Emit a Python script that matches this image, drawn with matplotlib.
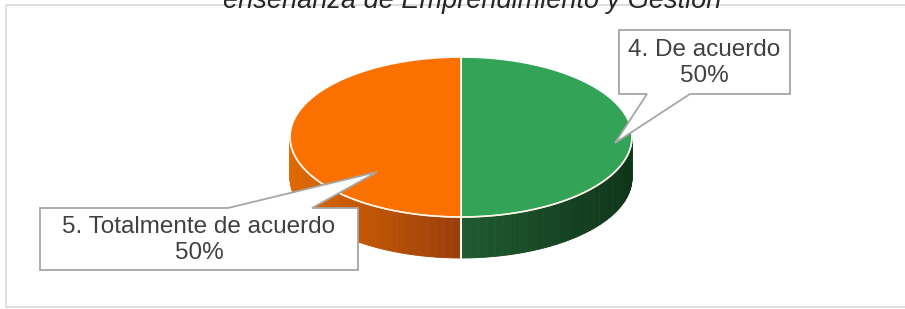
import numpy as np
import matplotlib
matplotlib.use("Agg")
import matplotlib.pyplot as plt
from matplotlib.patches import Polygon, Rectangle
from matplotlib.colors import to_rgb

title = "enseñanza de Emprendimiento y Gestión"
labels = ["4. De acuerdo", "5. Totalmente de acuerdo"]
values = [50, 50]
top_colors = ["#33a457", "#fb7100"]
side_light = ["#1f5a31", "#e06a00"]
side_dark = ["#0f3519", "#993e0c"]

W, H = 905, 309
fig = plt.figure(figsize=(W / 100, H / 100), dpi=100)
ax = fig.add_axes([0, 0, 1, 1])
ax.set_xlim(0, W)
ax.set_ylim(H, 0)
ax.axis("off")

# chart frame
ax.add_patch(Rectangle((6, 5), 960, 302, fill=False, ec="#d9d9d9", lw=1.2))
ax.text(472, 8, title, ha="center", va="baseline", fontsize=19.5, style="italic",
        color="#262626", family="Liberation Sans")

cx, cy, rx, ry, depth = 461, 137, 171, 80, 41


def pt(t, dy=0):
    r = np.radians(t)
    return cx + rx * np.cos(r), cy - ry * np.sin(r) + dy


total = sum(values)
angles = [90]
for v in values:
    angles.append(angles[-1] - v / total * 360)

# side walls (front half only)
for i in range(len(values)):
    a0, a1 = angles[i], angles[i + 1]
    lo, hi = min(a0, a1), max(a0, a1)
    ts = np.linspace(lo, hi, 200)
    ts = ts[np.sin(np.radians(ts)) <= 1e-9]
    if len(ts) < 2:
        continue
    c0, c1 = np.array(to_rgb(side_light[i])), np.array(to_rgb(side_dark[i]))
    for k in range(len(ts) - 1):
        # shade: lighter on the outer side, darker near the front middle
        f = abs(np.cos(np.radians((ts[k] + ts[k + 1]) / 2)))
        if i == 0:
            col = c1 + (c0 - c1) * (1 - f)
        else:
            col = c1 + (c0 - c1) * f
        p1, p2 = pt(ts[k]), pt(ts[k + 1])
        q1, q2 = pt(ts[k], depth), pt(ts[k + 1], depth)
        ax.add_patch(Polygon([p1, p2, q2, q1], closed=True, fc=col, ec=col, lw=0.6))

# white seam on side at the front
ax.plot([pt(-90)[0]] * 2, [pt(-90)[1], pt(-90, depth)[1]], color="white", lw=1.4)

# top faces
for i in range(len(values)):
    ts = np.linspace(angles[i], angles[i + 1], 200)
    poly = [(cx, cy)] + [pt(t) for t in ts]
    ax.add_patch(Polygon(poly, closed=True, fc=top_colors[i], ec="white", lw=1.2))

# front rim highlight
ts = np.linspace(180, 360, 200)
rim = np.array([pt(t) for t in ts])
ax.plot(rim[:, 0], rim[:, 1], color="#fff2e0", lw=1.0, alpha=0.8)


def callout(box, base, tip, text):
    x0, y0, x1, y1 = box
    b0, b1 = base
    if tip[1] > y1:
        pts = [(x0, y0), (x1, y0), (x1, y1), (b1, y1), tip, (b0, y1), (x0, y1)]
    else:
        pts = [(x0, y0), (b0, y0), tip, (b1, y0), (x1, y0), (x1, y1), (x0, y1)]
    ax.add_patch(Polygon(pts, closed=True, fc="white", ec="#a6a6a6", lw=1.3, zorder=5))
    ax.text((x0 + x1) / 2, (y0 + y1) / 2 + 1, text, ha="center", va="center",
            fontsize=17.5, color="#404040", family="Liberation Sans",
            linespacing=1.22, zorder=6)


pcts = [round(v / total * 100) for v in values]
callout((619, 30, 790, 94), (647, 690), (615, 143), f"{labels[0]}\n{pcts[0]}%")
callout((40, 208, 358, 270), (228, 312), (377, 172), f"{labels[1]}\n{pcts[1]}%")

fig.savefig("out.png", dpi=100, facecolor="white")
